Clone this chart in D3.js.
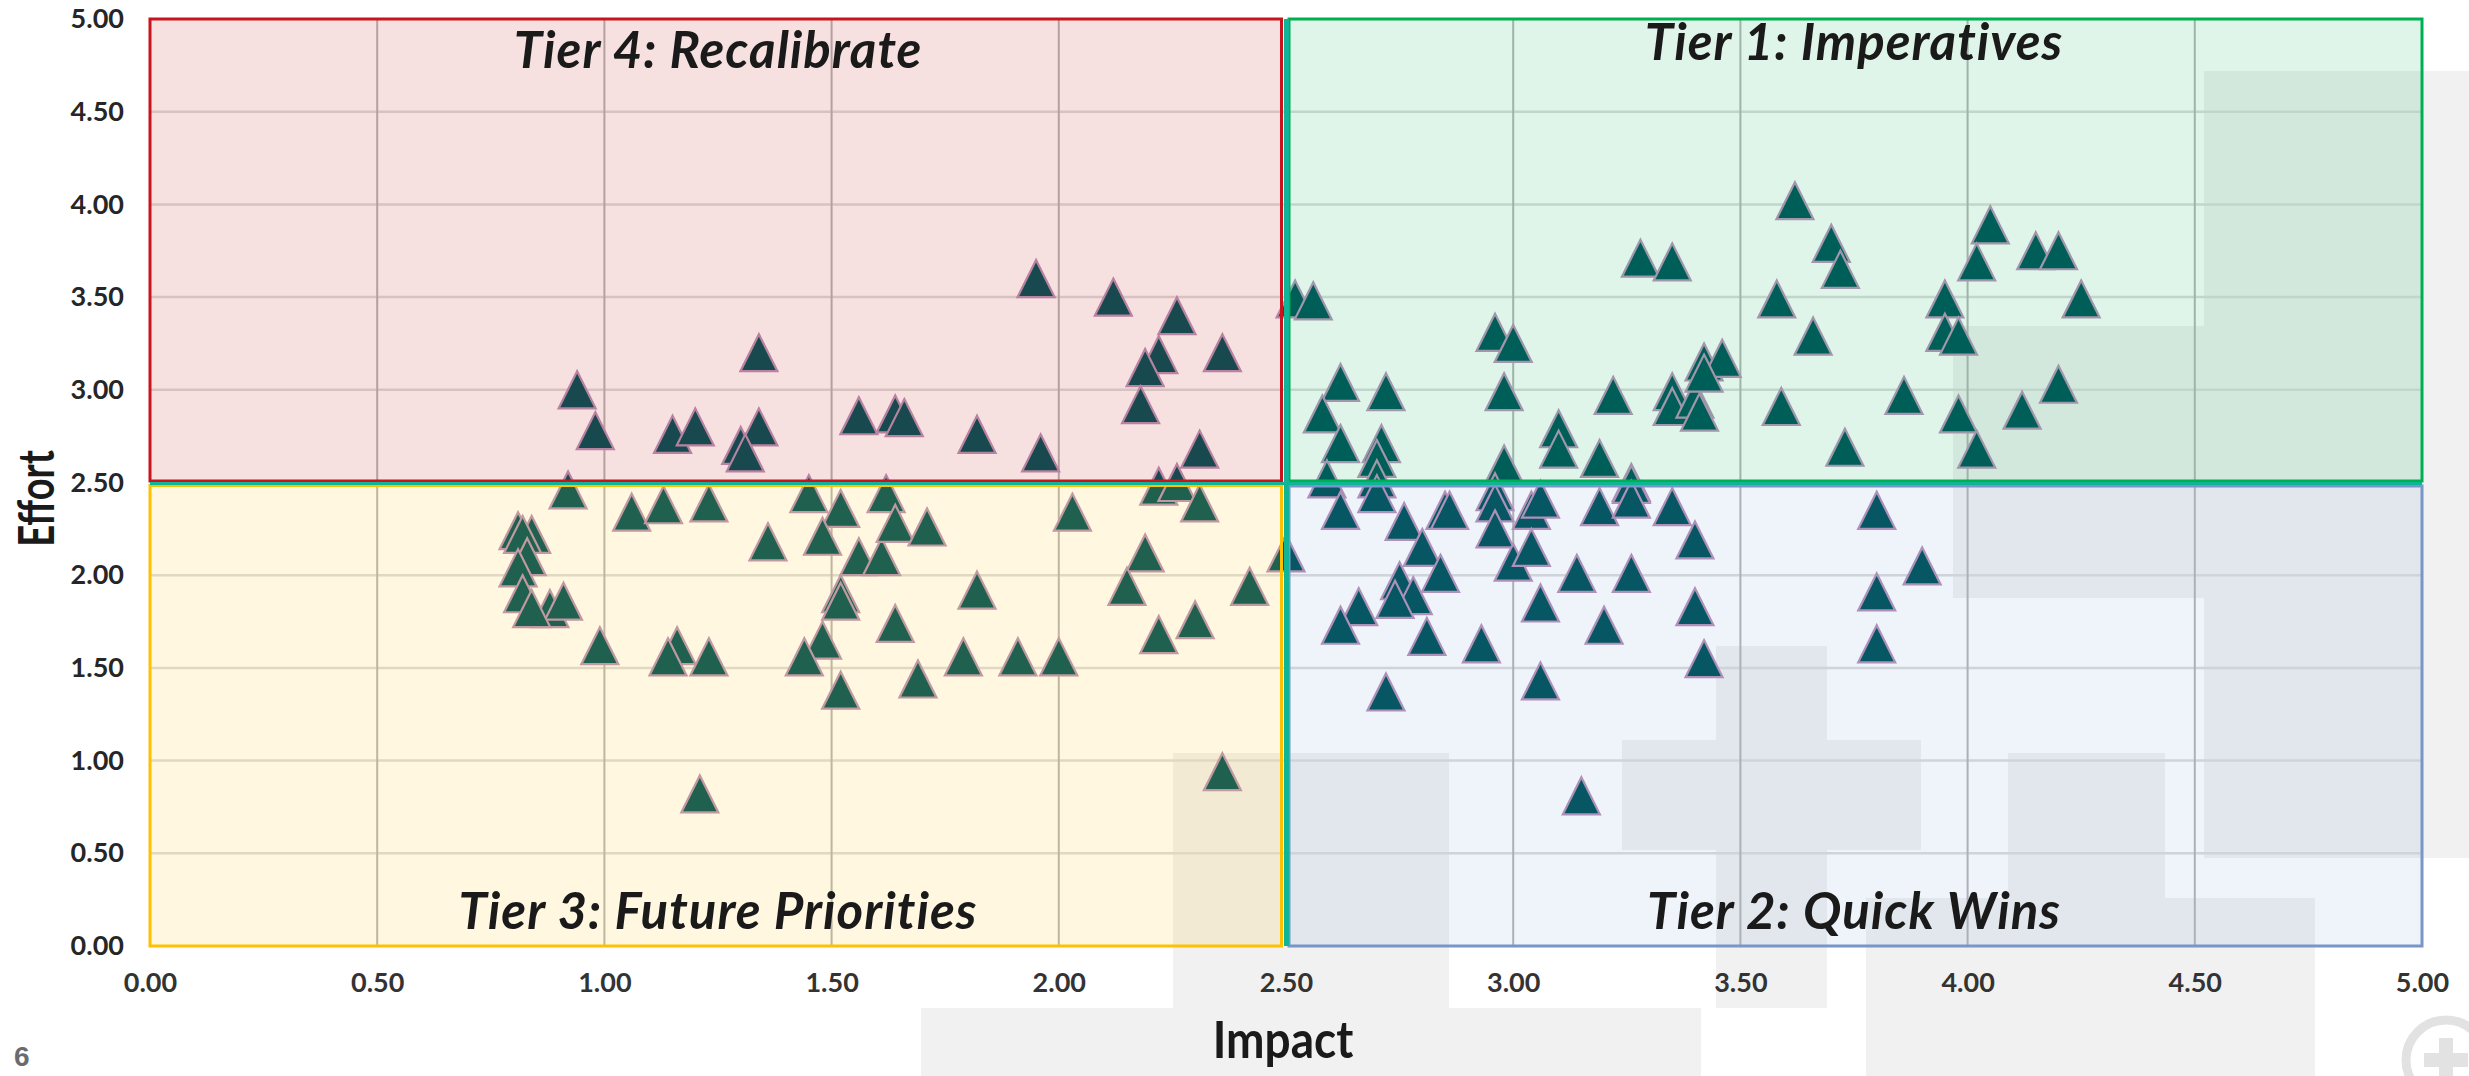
<!DOCTYPE html>
<html>

<head>
    <meta charset="utf-8">
    <style>
        body {
            margin: 0;
            background: white;
            font-family: Lato, "Open Sans", sans-serif;
        }

        svg {
            display: block;
        }
    </style>
    <script src="https://d3js.org/d3.v7.min.js"></script>
</head>

<body>
    <svg id="chart"></svg>
</body>

<script>
    // DATA  (impact, effort)
    let tier4Points = [
        [0.94, 3.00], [0.98, 2.78], [1.15, 2.76], [1.20, 2.80], [1.34, 3.20], [1.34, 2.80], [1.30, 2.70],
        [1.31, 2.66], [1.56, 2.86], [1.64, 2.87], [1.66, 2.85], [1.95, 3.60], [2.12, 3.50], [2.26, 3.40],
        [2.22, 3.19], [2.19, 3.12], [2.36, 3.20], [2.18, 2.92], [1.82, 2.76], [1.96, 2.66], [2.31, 2.68]
    ]
    let tier3Points = [
        [0.92, 2.46], [1.06, 2.34], [1.13, 2.38], [1.23, 2.39], [1.45, 2.44], [1.52, 2.36], [1.62, 2.44],
        [1.36, 2.18], [1.48, 2.21], [1.56, 2.10], [1.61, 2.10], [1.64, 2.28], [1.71, 2.26], [1.52, 1.90],
        [1.52, 1.86], [1.48, 1.65], [1.44, 1.56], [1.52, 1.38], [1.64, 1.74], [0.81, 2.24], [0.84, 2.22],
        [0.82, 2.22], [0.83, 2.10], [0.81, 2.04], [0.82, 1.90], [0.88, 1.82], [0.91, 1.86], [0.84, 1.82],
        [0.99, 1.62], [1.16, 1.62], [1.14, 1.56], [1.23, 1.56], [1.21, 0.82], [1.82, 1.92], [1.69, 1.44],
        [1.79, 1.56], [1.91, 1.56], [2.00, 1.56], [2.03, 2.34], [2.22, 2.48], [2.26, 2.50], [2.31, 2.39],
        [2.19, 2.12], [2.15, 1.94], [2.42, 1.94], [2.30, 1.76], [2.22, 1.68], [2.36, 0.94], [2.50, 2.12]
    ]
    let tier1Points = [
        [2.52, 3.49], [2.56, 3.48], [2.96, 3.31], [3.00, 3.25], [3.28, 3.71], [3.35, 3.69], [2.62, 3.04],
        [2.58, 2.87], [2.72, 2.99], [2.62, 2.71], [2.71, 2.71], [2.70, 2.63], [2.70, 2.52], [2.59, 2.52],
        [2.98, 2.99], [2.98, 2.60], [3.10, 2.79], [3.10, 2.68], [3.22, 2.97], [3.19, 2.63], [3.26, 2.50],
        [3.35, 2.99], [3.35, 2.91], [3.40, 2.95], [3.41, 2.88], [3.62, 4.02], [3.70, 3.79], [3.72, 3.65],
        [3.58, 3.49], [3.66, 3.29], [4.05, 3.89], [4.02, 3.69], [4.15, 3.75], [4.20, 3.75], [4.25, 3.49],
        [3.95, 3.49], [3.95, 3.31], [3.98, 3.29], [3.42, 3.15], [3.46, 3.17], [3.42, 3.09], [3.59, 2.91],
        [3.86, 2.97], [3.73, 2.69], [3.98, 2.87], [4.02, 2.68], [4.12, 2.89], [4.20, 3.03]
    ]
    let tier2Points = [
        [2.62, 2.35], [2.70, 2.44], [2.76, 2.29], [2.80, 2.15], [2.84, 2.01], [2.75, 1.97], [2.78, 1.89],
        [2.74, 1.87], [2.66, 1.83], [2.62, 1.73], [2.81, 1.67], [2.93, 1.63], [2.72, 1.37], [2.85, 2.35],
        [2.86, 2.35], [2.96, 2.45], [2.96, 2.39], [2.96, 2.25], [3.00, 2.07], [3.04, 2.35], [3.06, 2.41],
        [3.04, 2.15], [3.06, 1.85], [3.14, 2.01], [3.20, 1.73], [3.19, 2.37], [3.26, 2.49], [3.26, 2.41],
        [3.35, 2.37], [3.26, 2.01], [3.40, 2.19], [3.40, 1.83], [3.06, 1.43], [3.15, 0.81], [3.80, 2.35],
        [3.90, 2.05], [3.80, 1.91], [3.80, 1.63], [3.42, 1.55]
    ]
    let tickValues = [0, 0.5, 1, 1.5, 2, 2.5, 3, 3.5, 4, 4.5, 5]
    let tierNames = ["Tier 4: Recalibrate", "Tier 1: Imperatives", "Tier 3: Future Priorities", "Tier 2: Quick Wins"]

    showChart()

    function getConfig() {
        let width = 2469
        let height = 1076
        let margin = { top: 19, bottom: 130, left: 150, right: 47 }
        let container = d3.select("#chart")
            .attr("width", width)
            .attr("height", height)
        return { width, height, margin, container }
    }

    function getScales(config) {
        let { width, height, margin } = config
        let xScale = d3.scaleLinear().domain([0, 5]).range([margin.left, width - margin.right])
        let yScale = d3.scaleLinear().domain([0, 5]).range([height - margin.bottom, margin.top])
        return { xScale, yScale }
    }

    function showChart() {
        let config = getConfig()
        let scales = getScales(config)
        drawWatermark(config)
        drawGrid(config, scales)
        drawPoints(config, scales)
        drawQuadrants(config, scales)
        drawAxes(config, scales)
        drawTitles(config, scales)
    }

    // faint logo shapes in the page background
    function drawWatermark(config) {
        let g = config.container.append("g").attr("fill", "#f1f1f1")
        let shapes = [
            [2204, 71, 265, 787], [1953, 326, 251, 272], [1716, 646, 111, 362], [1622, 740, 299, 110],
            [1173, 753, 276, 323], [921, 1008, 780, 68], [2008, 753, 157, 145], [1866, 898, 449, 178]
        ]
        g.selectAll("rect").data(shapes).enter().append("rect")
            .attr("x", d => d[0]).attr("y", d => d[1])
            .attr("width", d => d[2]).attr("height", d => d[3])
        let logo = config.container.append("g")
            .attr("transform", "translate(2446,1060)")
            .attr("fill", "none").attr("stroke", "#e2e2e2").attr("stroke-width", 9)
        logo.append("circle").attr("r", 40)
        logo.append("path").attr("d", "M0,-22V22M-22,0H22").attr("stroke-width", 14)
    }

    function drawGrid(config, scales) {
        let { xScale, yScale } = scales
        let g = config.container.append("g")
        g.selectAll(".hgrid").data(tickValues.slice(1, -1)).enter().append("line")
            .attr("x1", xScale(0)).attr("x2", xScale(5))
            .attr("y1", d => yScale(d)).attr("y2", d => yScale(d))
            .attr("stroke", "#dcdcdc").attr("stroke-width", 2.5)
        g.selectAll(".vgrid").data(tickValues.slice(1, -1)).enter().append("line")
            .attr("y1", yScale(0)).attr("y2", yScale(5))
            .attr("x1", d => xScale(d)).attr("x2", d => xScale(d))
            .attr("stroke", "#b6b6b6").attr("stroke-width", 2)
    }

    function drawPoints(config, scales) {
        let { xScale, yScale } = scales
        let points = tier4Points.concat(tier3Points, tier1Points, tier2Points)
        let w = 37, h = 37
        let tri = `M0,${-h / 2}L${w / 2},${h / 2}L${-w / 2},${h / 2}Z`
        config.container.append("g").selectAll("path")
            .data(points).enter().append("path")
            .attr("d", tri)
            .attr("transform", d => `translate(${xScale(d[0])},${yScale(d[1])})`)
            .attr("fill", "#01545a")
            .attr("stroke", "#b894b8")
            .attr("stroke-width", 2.2)
    }

    // tinted quadrant boxes sit over the markers
    function drawQuadrants(config, scales) {
        let { xScale, yScale } = scales
        let xm = xScale(2.5), ym = yScale(2.5)
        let x0 = xScale(0), x1 = xScale(5), y0 = yScale(5), y1 = yScale(0)
        let boxes = [
            { x: x0, y: y0, w: xm - 4.5 - x0, h: ym - 1.5 - y0, fill: "#c00000", op: 0.12, stroke: "#c8141e" },
            { x: xm + 3, y: y0, w: x1 - xm - 3, h: ym - 1.5 - y0, fill: "#00b050", op: 0.12, stroke: "#00b050" },
            { x: x0, y: ym + 3, w: xm - 4.5 - x0, h: y1 - ym - 3, fill: "#ffc000", op: 0.12, stroke: "#ffc000" },
            { x: xm + 3, y: ym + 3.5, w: x1 - xm - 3, h: y1 - ym - 3.5, fill: "#4472c4", op: 0.085, stroke: "#7896c8" }
        ]
        let g = config.container.append("g")
        g.selectAll("rect").data(boxes).enter().append("rect")
            .attr("x", d => d.x).attr("y", d => d.y)
            .attr("width", d => d.w).attr("height", d => d.h)
            .attr("fill", d => d.fill).attr("fill-opacity", d => d.op)
            .attr("stroke", d => d.stroke).attr("stroke-width", 3)
        g.append("line")
            .attr("x1", x0).attr("x2", x1).attr("y1", ym + 1).attr("y2", ym + 1)
            .attr("stroke", "#10b496").attr("stroke-width", 3)
        g.append("line")
            .attr("x1", xm + 0.5).attr("x2", xm + 0.5).attr("y1", y0).attr("y2", y1)
            .attr("stroke", "#10b496").attr("stroke-width", 5)
    }

    function drawAxes(config, scales) {
        let { xScale, yScale } = scales
        let { container, margin, height } = config
        let fmt = d3.format(".2f")

        let yAxis = d3.axisLeft(yScale).tickValues(tickValues).tickFormat(fmt).tickSize(0).tickPadding(26)
        let gy = container.append("g")
            .attr("transform", `translate(${margin.left},0)`)
            .call(yAxis)
        gy.select(".domain").remove()
        gy.selectAll("text").style("font-family", "Lato").style("font-size", "27px")
            .style("font-weight", 700).attr("fill", "#262626")

        let xAxis = d3.axisBottom(xScale).tickValues(tickValues).tickFormat(fmt).tickSize(0).tickPadding(27)
        let gx = container.append("g")
            .attr("transform", `translate(0,${height - margin.bottom})`)
            .call(xAxis)
        gx.select(".domain").remove()
        gx.selectAll("text").style("font-family", "Lato").style("font-size", "27px")
            .style("font-weight", 700).attr("fill", "#333333")

        container.append("text")
            .attr("transform", `translate(54,${yScale(2.5) + 16}) rotate(-90) scale(1,1.3)`)
            .attr("text-anchor", "middle")
            .style("font-family", "Lato").style("font-size", "38px").style("font-weight", 700)
            .attr("fill", "#1a1a1a")
            .text("Effort")

        container.append("text")
            .attr("transform", `translate(${xScale(2.5) - 3},1058) scale(1,1.1)`)
            .attr("text-anchor", "middle")
            .style("font-family", "Lato").style("font-size", "46px").style("font-weight", 700)
            .attr("fill", "#1a1a1a")
            .text("Impact")

        container.append("text")
            .attr("x", 14).attr("y", 1066)
            .style("font-family", "Liberation Sans, Arial").style("font-size", "28px").style("font-weight", 700)
            .attr("fill", "#6b6b6b")
            .text("6")
    }

    function drawTitles(config, scales) {
        let { xScale } = scales
        let spots = [
            { x: xScale(1.25), y: 68 }, { x: xScale(3.75), y: 60 },
            { x: xScale(1.25), y: 929 }, { x: xScale(3.75), y: 929 }
        ]
        config.container.append("g").selectAll("text")
            .data(tierNames).enter().append("text")
            .attr("x", (d, i) => spots[i].x).attr("y", (d, i) => spots[i].y)
            .attr("text-anchor", "middle")
            .style("font-family", "Lato").style("font-size", "51px")
            .style("font-weight", 700).style("font-style", "italic")
            .style("letter-spacing", "1px")
            .attr("fill", "#1a1a1a")
            .text(d => d)
    }
</script>

</html>
